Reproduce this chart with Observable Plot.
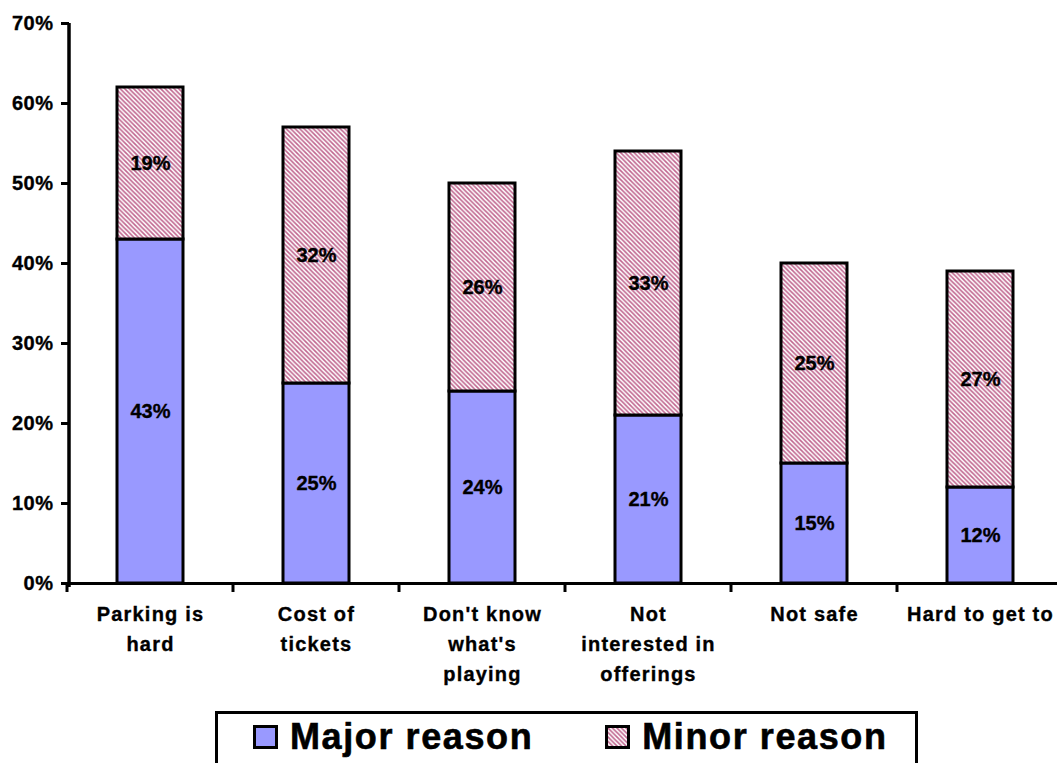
<!DOCTYPE html>
<html>
<head>
<meta charset="utf-8">
<script src="https://cdn.jsdelivr.net/npm/d3@7"></script>
<script src="https://cdn.jsdelivr.net/npm/@observablehq/plot@0.6"></script>
<style>
  html, body { margin: 0; padding: 0; background: #fff; }
  body { width: 1057px; height: 763px; overflow: hidden; font-family: Arial, "Liberation Sans", sans-serif; position: relative; }
  #chart svg text { stroke: #000; stroke-width: 0.35px; }
  #legend {
    position: absolute; left: 215px; top: 711px; width: 703px; height: 60px;
    border: 3px solid #000; box-sizing: border-box; background: #fff;
    display: flex; align-items: flex-start; padding-top: 2px;
    font-weight: bold; font-size: 36px; letter-spacing: 1.6px; line-height: 42px;
    font-family: Arial, "Liberation Sans", sans-serif; -webkit-text-stroke: 0.6px #000;
  }
  .item { display: flex; align-items: center; }
  .sw { width: 25px; height: 24px; border: 3px solid #000; box-sizing: border-box; margin-right: 12px; overflow: hidden; }
  .sw svg { display: block; }
</style>
</head>
<body>
<div id="chart"></div>
<div id="legend">
  <div class="item" style="margin-left:35px"><div class="sw" style="background:#9999ff"></div>Major reason</div>
  <div class="item" style="margin-left:72px"><div class="sw" id="minorSw"></div>Minor reason</div>
</div>
<script>
const categories = ["Parking is hard", "Cost of tickets", "Don't know what's playing", "Not interested in offerings", "Not safe", "Hard to get to"];
const tickLabels = ["Parking is\nhard", "Cost of\ntickets", "Don't know\nwhat's\nplaying", "Not\ninterested in\nofferings", "Not safe", "Hard to get to"];
const major = [43, 25, 24, 21, 15, 12];
const minor = [19, 32, 26, 33, 25, 27];
const series = ["Major reason", "Minor reason"];
const yTicks = [0, 10, 20, 30, 40, 50, 60, 70];

const data = [];
categories.forEach((c, i) => {
  data.push({cat: c, series: series[0], value: major[i]});
  data.push({cat: c, series: series[1], value: minor[i]});
});
const labelOf = new Map(categories.map((c, i) => [c, tickLabels[i]]));

const boundaryTicks = (index, scales, values, dims) => {
  const x = scales.x, y = scales.y;
  const step = x.step(), bw = x.bandwidth();
  const g = d3.create("svg:g");
  const xs = categories.map(c => x(c) - (step - bw) / 2);
  xs.push(x(categories[categories.length - 1]) + bw + (step - bw) / 2);
  for (const xv of xs) {
    g.append("line").attr("x1", xv).attr("x2", xv)
      .attr("y1", y(0)).attr("y2", y(0) + 9)
      .attr("stroke", "#000").attr("stroke-width", 3);
  }
  return g.node();
};

const chart = Plot.plot({
  width: 1057,
  height: 700,
  marginLeft: 69,
  marginRight: 0,
  marginTop: 23,
  marginBottom: 117,
  style: {fontFamily: "Arial, 'Liberation Sans', sans-serif", background: "#fff"},
  x: {type: "band", domain: categories, range: [66, 1064], paddingInner: 0.6, paddingOuter: 0.3, align: 0.5, label: null},
  y: {domain: [0, 70], label: null},
  marks: [
    Plot.ruleY(yTicks, {y: d => d, x1: 69, x2: 1057, stroke: "#000", strokeWidth: 1.5}),
    Plot.barY(data, Plot.stackY({
      x: "cat", y: "value", z: "series", order: series,
      fill: d => d.series === series[0] ? "#9999ff" : "url(#hatch)",
      stroke: "#000", strokeWidth: 3, insetLeft: 0, insetRight: 0
    })),
    Plot.text(data, Plot.stackY({
      x: "cat", y: "value", z: "series", order: series,
      text: d => d.value + "%", fontSize: 20, fontWeight: "bold", fill: "#000",
      letterSpacing: "0.8px"
    })),
    Plot.ruleY([0], {stroke: "#000", strokeWidth: 3}),
    Plot.axisY({ticks: yTicks, tickFormat: d => d + "%", tickSize: 8, tickPadding: 8,
      fontSize: 20, fontWeight: "bold", stroke: "#000", strokeWidth: 3}),
    Plot.axisX({tickSize: 0, tickPadding: 16, tickFormat: d => labelOf.get(d),
      fontSize: 20, fontWeight: "bold", lineHeight: 1.5, lineAnchor: "top"}),
    boundaryTicks
  ]
});

// y axis line
d3.select(chart).append("line")
  .attr("x1", 69).attr("x2", 69).attr("y1", 23).attr("y2", 587)
  .attr("stroke", "#000").attr("stroke-width", 3.5);

// hatch pattern
const defs = d3.select(chart).insert("defs", ":first-child");
const pat = defs.append("pattern").attr("id", "hatch")
  .attr("patternUnits", "userSpaceOnUse").attr("width", 4.5).attr("height", 4.5);
pat.append("rect").attr("width", 4.5).attr("height", 4.5).attr("fill", "#fff");
pat.append("path").attr("d", "M-1,-1L5.5,5.5M3.5,-1L5.5,1M-1,3.5L1,5.5")
  .attr("stroke", "#c0668f").attr("stroke-width", 1.6);
// text styling
d3.select(chart).selectAll("text").attr("fill", "#000");
d3.select(chart).selectAll("g[aria-label='x-axis tick label'] text")
  .style("letter-spacing", "1.2px");
d3.select(chart).selectAll("g[aria-label='y-axis tick label'] text").style("letter-spacing", "0.5px");
document.getElementById("chart").appendChild(chart);

// legend swatch pattern
const sw = document.getElementById("minorSw");
sw.innerHTML = '<svg width="19" height="18"><rect width="19" height="18" fill="url(#hatch)"/></svg>';
</script>
</body>
</html>
